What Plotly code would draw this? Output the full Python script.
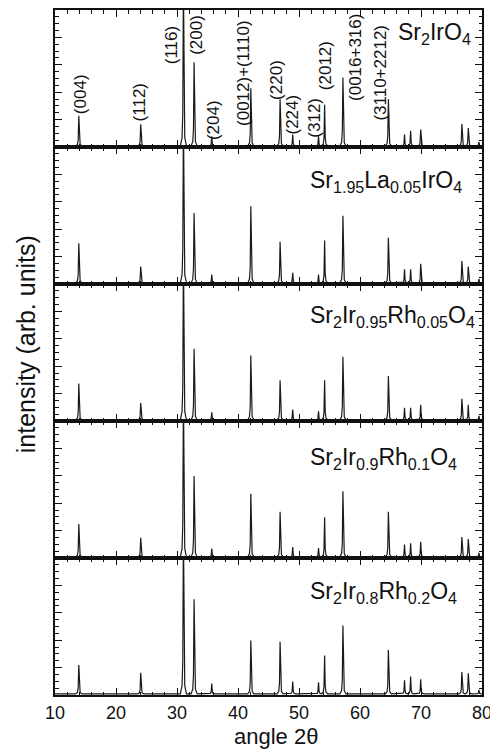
import plotly.graph_objects as go
from plotly.subplots import make_subplots

# ---------------- data ----------------
samples = [
    "Sr<sub>2</sub>IrO<sub>4</sub>",
    "Sr<sub>1.95</sub>La<sub>0.05</sub>IrO<sub>4</sub>",
    "Sr<sub>2</sub>Ir<sub>0.95</sub>Rh<sub>0.05</sub>O<sub>4</sub>",
    "Sr<sub>2</sub>Ir<sub>0.9</sub>Rh<sub>0.1</sub>O<sub>4</sub>",
    "Sr<sub>2</sub>Ir<sub>0.8</sub>Rh<sub>0.2</sub>O<sub>4</sub>",
]

# peak positions (2theta, degrees)
peak_pos = [13.9, 24.05, 31.05, 32.8, 35.7, 42.1, 46.9, 48.97, 53.2, 54.2,
            57.2, 64.65, 67.3, 68.3, 69.95, 76.7, 77.75, 79.5]

# peak heights (normalised, per sample)
h_sr2iro4 = [0.22, 0.157, 1.2, 0.61, 0.07, 0.42, 0.34, 0.083, 0.07, 0.30,
             0.50, 0.34, 0.083, 0.11, 0.12, 0.16, 0.13, 0.03]
h_la005 = [0.29, 0.12, 1.2, 0.51, 0.06, 0.56, 0.30, 0.074, 0.06, 0.31,
           0.49, 0.33, 0.10, 0.10, 0.14, 0.16, 0.12, 0.03]
h_rh005 = [0.265, 0.124, 1.2, 0.52, 0.056, 0.47, 0.29, 0.075, 0.063, 0.29,
           0.46, 0.32, 0.088, 0.088, 0.11, 0.155, 0.11, 0.03]
h_rh01 = [0.24, 0.14, 1.2, 0.59, 0.06, 0.46, 0.33, 0.072, 0.065, 0.29,
          0.48, 0.33, 0.09, 0.10, 0.11, 0.145, 0.13, 0.03]
h_rh02 = [0.21, 0.155, 1.2, 0.69, 0.076, 0.39, 0.38, 0.09, 0.084, 0.28,
          0.50, 0.32, 0.10, 0.126, 0.107, 0.16, 0.15, 0.03]
heights = [h_sr2iro4, h_la005, h_rh005, h_rh01, h_rh02]
baseline = 0.008

# Miller-index labels of the top panel
peak_labels = ["(004)", "(112)", "(116)", "(200)", "(204)", "(0012)+(1110)",
               "(220)", "(224)", "(312)", "(2012)", "(0016+316)", "(3110+2212)"]
label_x = [14.1, 23.9, 29.1, 33.2, 35.95, 40.9, 46.3, 48.97, 52.6, 54.4, 59.3, 63.3]
label_y = [0.386, 0.324, 0.739, 0.815, 0.199, 0.544, 0.493, 0.235, 0.213, 0.596, 0.655, 0.544]

# sample-name positions (x in 2theta, y in panel units)
name_x = [65.9, 51.4, 51.5, 51.5, 51.5]
name_y = [0.83, 0.745, 0.765, 0.725, 0.75]

x_ticks = [10, 20, 30, 40, 50, 60, 70, 80]

# ---------------- peak drawing style ----------------
prof_dx = [-0.5, -0.22, -0.1, 0.0, 0.1, 0.22, 0.5]
prof_f = [0.0, 0.05, 0.2, 1.0, 0.2, 0.05, 0.0]


def pattern(pos, hts):
    xs, ys = [10.0], [baseline]
    for p, h in zip(pos, hts):
        for dx, f in zip(prof_dx, prof_f):
            xs.append(p + dx)
            ys.append(baseline + h * f)
    xs.append(80.0)
    ys.append(baseline)
    return xs, ys


FONT = "Arial, Liberation Sans, sans-serif"

fig = make_subplots(rows=5, cols=1, shared_xaxes=True, vertical_spacing=0)

for i, hts in enumerate(heights):
    xs, ys = pattern(peak_pos, hts)
    fig.add_trace(go.Scatter(x=xs, y=ys, mode="lines",
                             line=dict(color="#1a1a1a", width=1.2),
                             showlegend=False, hoverinfo="skip"),
                  row=i + 1, col=1)
    fig.add_annotation(x=name_x[i], y=name_y[i], xref=f"x{i+1}" if i else "x",
                       yref=f"y{i+1}" if i else "y", text=samples[i],
                       showarrow=False, xanchor="left", yanchor="middle",
                       font=dict(family=FONT, size=23, color="#111"))

for t, lx, ly in zip(peak_labels, label_x, label_y):
    fig.add_annotation(x=lx, y=ly, xref="x", yref="y", text=t, textangle=-90,
                       showarrow=False, xanchor="center", yanchor="middle",
                       font=dict(family=FONT, size=17, color="#111"))

for i in range(1, 6):
    fig.update_xaxes(row=i, col=1, range=[10, 80], tickvals=x_ticks,
                     ticks="inside", ticklen=7, tickwidth=1.2, tickcolor="#111",
                     minor=dict(dtick=2, ticks="inside", ticklen=3.5, tickcolor="#111"),
                     showline=True, linecolor="#111", linewidth=2, mirror="ticks",
                     showgrid=False, zeroline=False,
                     showticklabels=(i == 5),
                     tickfont=dict(family=FONT, size=18, color="#111"))
    fig.update_yaxes(row=i, col=1, range=[0, 1], dtick=0.2, tick0=0,
                     ticks="inside", ticklen=7, tickwidth=1.2, tickcolor="#111",
                     minor=dict(dtick=0.05, ticks="inside", ticklen=3.5, tickcolor="#111"),
                     showline=True, linecolor="#111", linewidth=2, mirror="ticks",
                     showgrid=False, zeroline=False, showticklabels=False)

fig.add_annotation(x=-0.068, y=0.512, xref="paper", yref="paper",
                   text="intensity (arb. units)", textangle=-90, showarrow=False,
                   xanchor="center", yanchor="middle",
                   font=dict(family=FONT, size=25, color="#111"))
fig.add_annotation(x=0.5187, y=-0.061, xref="paper", yref="paper",
                   text="angle 2θ", showarrow=False,
                   xanchor="center", yanchor="middle",
                   font=dict(family=FONT, size=22, color="#111"))

fig.update_layout(width=490, height=748, margin=dict(l=47, r=16, t=0, b=61),
                  plot_bgcolor="white", paper_bgcolor="white")

fig.write_html("out.html")
